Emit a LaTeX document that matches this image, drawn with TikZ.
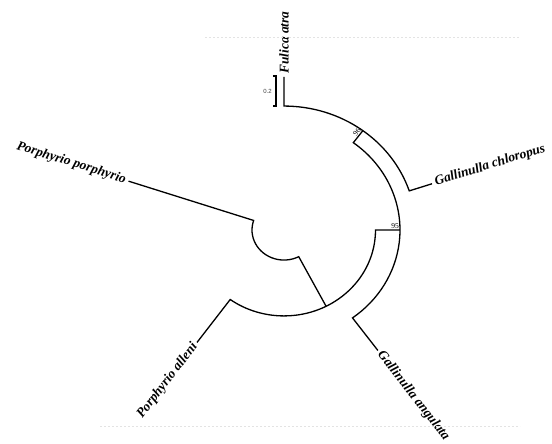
\documentclass[tikz,border=0pt]{standalone}
\usepackage{fontspec}
\usetikzlibrary{calc}
\setmainfont{Liberation Serif}
\newfontfamily\barfont{Liberation Sans}
\begin{document}
\begin{tikzpicture}[
  branch/.style={line width=1.3pt, line join=miter, line cap=butt},
  taxon/.style={font=\fontsize{13.4}{15}\selectfont\bfseries\itshape, inner sep=3pt},
  boot/.style={font=\fontsize{7.5}{8}\selectfont, inner sep=1pt},
  scalebar/.style={line width=1.1pt},
  faint/.style={gray!22, line width=0.5pt, dash pattern=on 2pt off 2pt}
]
\useasboundingbox (-284pt,-214pt) rectangle (268pt,230pt);
\begin{scope}[yscale=0.939]
  % leaf and node points (polar, circle space)
  \coordinate (F0)   at (90:132pt);
  \coordinate (F1)   at (90:163pt);
  \coordinate (N96o) at (53.3:132pt);
  \coordinate (N96i) at (53.3:116pt);
  \coordinate (C0)   at (18.4:132pt);
  \coordinate (C1)   at (18.4:156pt);
  \coordinate (N95o) at (0:116pt);
  \coordinate (N95i) at (0:91.5pt);
  \coordinate (A0)   at (-53.8:116pt);
  \coordinate (A1)   at (-53.8:159pt);
  \coordinate (PJ)   at (-62.6:91.5pt);
  \coordinate (PS)   at (-62.6:32pt);
  \coordinate (L0)   at (-126:91.5pt);
  \coordinate (L1)   at (-126:148pt);
  \coordinate (P0)   at (161.5:32pt);
  \coordinate (P1)   at (161.5:164pt);
  % branches
  \draw[branch] (F1) -- (F0) arc[start angle=90, end angle=18.4, radius=132pt] -- (C1);
  \draw[branch] (N96o) -- (N96i) arc[start angle=53.3, end angle=-53.8, radius=116pt] -- (A1);
  \draw[branch] (N95o) -- (N95i) arc[start angle=0, end angle=-126, radius=91.5pt] -- (L1);
  \draw[branch] (PJ) -- (PS) arc[start angle=-62.6, end angle=-198.5, radius=32pt] -- (P1);
\end{scope}
% taxon labels
\node[taxon, anchor=west, rotate=90]     (tF) at (F1) {Fulica atra};
\node[taxon, anchor=west, rotate=17.4]   (tC) at (C1) {Gallinulla chloropus};
\node[taxon, anchor=west, rotate=-52.1]  (tA) at (A1) {Gallinulla angulata};
\node[taxon, anchor=east, rotate=52.3]   (tL) at (L1) {Porphyrio alleni};
\node[taxon, anchor=east, rotate=-17.4]  (tP) at (P1) {Porphyrio porphyrio};
% bootstrap values
\node[boot, anchor=south east, rotate=51.6] (b96) at (N96o) {96};
\node[boot, anchor=south east] (b95) at (N95o) {95};
% scale bar
\coordinate (S1) at (-8pt,154pt);
\coordinate (S2) at (-8pt,124pt);
\draw[scalebar] ([xshift=-3pt]S1) -- (S1) -- (S2) -- ([xshift=-3pt]S2);
\node[font=\barfont\fontsize{6}{7}\selectfont, text=black!75, anchor=east, inner sep=1pt] (sl) at ($(S1)!0.5!(S2)+(-3pt,0)$) {0.2};
% faint artefact lines
\coordinate (T1) at (-79pt,193pt);
\coordinate (T2) at (236pt,193pt);
\coordinate (B1) at (-184pt,-196pt);
\coordinate (B2) at (236pt,-196pt);
\draw[faint] (T1) -- (T2);
\draw[faint] (B1) -- (B2);
\end{tikzpicture}
\end{document}
